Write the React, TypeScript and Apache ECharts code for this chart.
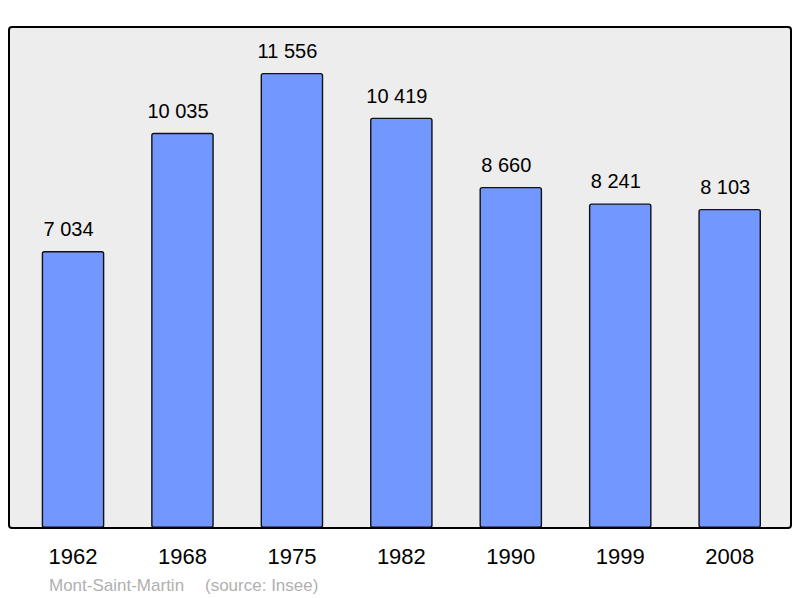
import React, { useEffect, useRef } from "react";
import * as echarts from "echarts";

const categories = ["1962", "1968", "1975", "1982", "1990", "1999", "2008"];
const populations = [7034, 10035, 11556, 10419, 8660, 8241, 8103];
const commune = "Mont-Saint-Martin";
const source = "(source: Insee)";

function fmt(v: number): string {
  return String(v).replace(/\B(?=(\d{3})+(?!\d))/g, " ");
}

export default function App() {
  const ref = useRef<HTMLDivElement>(null);
  useEffect(() => {
    if (!ref.current) return;
    const chart = echarts.init(ref.current, undefined, { renderer: "svg" });
    chart.setOption({
      animation: false,
      grid: { left: 18.3, right: 15.6, top: 27, bottom: 70, containLabel: false },
      xAxis: {
        type: "category",
        data: categories,
        axisLine: { show: false },
        axisTick: { show: false },
        axisLabel: {
          color: "#000",
          fontSize: 22,
          fontFamily: "Liberation Sans, Arial, sans-serif",
          margin: 17,
        },
      },
      yAxis: {
        type: "value",
        min: 0,
        max: 12722,
        show: false,
        splitLine: { show: false },
      },
      graphic: [
        {
          type: "rect",
          z: -10,
          silent: true,
          shape: { x: 9, y: 27, width: 782, height: 501, r: 3 },
          style: { fill: "#ededed", stroke: "none" },
        },
        {
          type: "rect",
          z: 100,
          silent: true,
          shape: { x: 9, y: 27, width: 782, height: 501, r: 3 },
          style: { fill: "none", stroke: "#000", lineWidth: 2 },
        },
        {
          type: "text",
          x: 49,
          y: 585,
          style: {
            text: commune,
            fill: "#b0b0b0",
            fontSize: 17,
            fontFamily: "Liberation Sans, Arial, sans-serif",
            textVerticalAlign: "middle",
          },
        },
        {
          type: "text",
          x: 205,
          y: 585,
          style: {
            text: source,
            fill: "#b0b0b0",
            fontSize: 17,
            fontFamily: "Liberation Sans, Arial, sans-serif",
            textVerticalAlign: "middle",
          },
        },
      ],
      series: [
        {
          type: "bar",
          data: populations,
          barWidth: 62.6,
          itemStyle: {
            color: "#7297ff",
            borderColor: "#111",
            borderWidth: 1.4,
            borderRadius: 2,
          },
          label: {
            show: true,
            position: "top",
            distance: 12,
            offset: [-4.5, 0],
            color: "#000",
            fontSize: 20,
            fontFamily: "Liberation Sans, Arial, sans-serif",
            formatter: (p: any) => fmt(p.value),
          },
        },
      ],
    });
    return () => chart.dispose();
  }, []);
  return <div ref={ref} style={{ width: 800, height: 598, position: "absolute", left: 0, top: 0 }} />;
}
